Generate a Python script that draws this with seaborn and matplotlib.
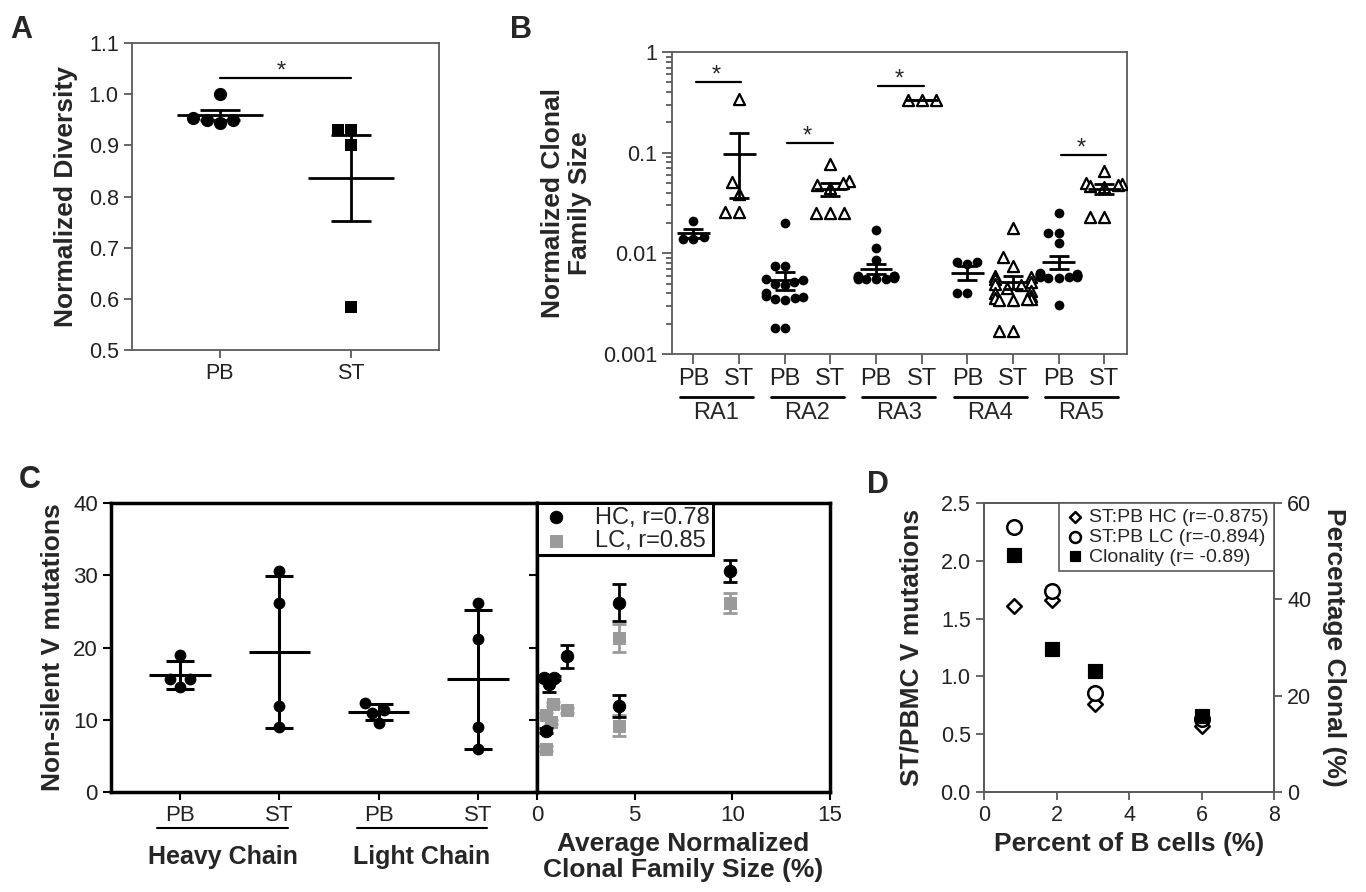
import numpy as np
import pandas as pd
import matplotlib
matplotlib.use("Agg")
from matplotlib import pyplot as plt
from matplotlib.ticker import LogLocator, NullFormatter
import seaborn as sns

# A: normalized diversity
a_groups = ['PB', 'ST']
a_pb = [1.0, 0.95, 0.943, 0.95, 0.953]
a_st = [0.93, 0.93, 0.90, 0.585]

# B: normalized clonal family size, per patient
b_patients = ['RA1', 'RA2', 'RA3', 'RA4', 'RA5']
ra1_pb = [0.021, 0.0145, 0.014, 0.014]
ra1_st = [0.34, 0.051, 0.039, 0.026, 0.026]
ra2_pb = [0.02, 0.0075, 0.0075, 0.0056, 0.0054, 0.0052, 0.005, 0.0048, 0.004,
          0.0038, 0.0037, 0.0036, 0.0035, 0.0034, 0.0018, 0.0018]
ra2_st = [0.078, 0.052, 0.05, 0.048, 0.045, 0.025, 0.025, 0.025]
ra3_pb = [0.017, 0.0112, 0.0086, 0.006, 0.006, 0.0059, 0.0058, 0.0058, 0.0058,
          0.0057, 0.0057, 0.0056, 0.0056, 0.0056, 0.0055]
ra3_st = [0.33, 0.33, 0.33]
ra4_pb = [0.0082, 0.0082, 0.0078, 0.004, 0.004]
ra4_st = [0.018, 0.0092, 0.0074, 0.006, 0.0058, 0.0055, 0.0052, 0.005, 0.0048,
          0.0045, 0.0042, 0.004, 0.0038, 0.0036, 0.0035, 0.0035, 0.0034, 0.0034,
          0.0017, 0.0017]
ra5_pb = [0.025, 0.016, 0.016, 0.0127, 0.0064, 0.0063, 0.0062, 0.0062, 0.0061,
          0.006, 0.006, 0.0059, 0.0059, 0.0058, 0.0058, 0.0058, 0.0057, 0.0057, 0.0031]
ra5_st = [0.066, 0.05, 0.049, 0.048, 0.047, 0.046, 0.023, 0.023]
b_sig = [(0, 0.5), (2, 0.124), (4, 0.46), (8, 0.095)]  # PB index, bracket height

# C: non-silent V mutations
c_groups = ['HC PB', 'HC ST', 'LC PB', 'LC ST']
c_ticklabels = ['PB', 'ST', 'PB', 'ST']
hc_pb = [19.0, 15.6, 15.6, 14.6]
hc_st = [30.6, 26.1, 11.9, 9.0]
lc_pb = [12.3, 11.3, 11.0, 9.6]
lc_st = [26.1, 21.2, 9.0, 6.0]

hc_size = [0.35, 0.6, 0.85, 0.6, 0.45, 1.55, 4.2, 4.2, 9.9]
hc_mut = [15.8, 15.5, 15.8, 14.9, 8.5, 18.8, 26.2, 11.9, 30.6]
hc_err = [0.3, 0.3, 0.3, 1.0, 0.3, 1.6, 2.6, 1.5, 1.5]
lc_size = [0.45, 0.8, 0.7, 0.45, 1.55, 4.2, 4.2, 9.9]
lc_mut = [10.7, 12.2, 9.7, 6.0, 11.3, 21.3, 9.2, 26.2]
lc_err = [0.3, 0.3, 0.3, 0.3, 0.3, 1.9, 1.4, 1.4]

# D: ST/PB ratios vs B cell percentage
d_bcells = [0.83, 1.88, 3.06, 6.0]
d_hc = [1.61, 1.66, 0.76, 0.57]
d_lc = [2.29, 1.74, 0.86, 0.63]
d_clonal = [49.3, 29.6, 25.1, 15.7]

sns.set_style('ticks')
plt.rcParams['font.family'] = ['Liberation Sans', 'DejaVu Sans']

W, H = 1366, 892
fig = plt.figure(figsize=(W / 100, H / 100), dpi=100)


def rect(x0, y0, x1, y1):
    return [x0 / W, 1 - y1 / H, (x1 - x0) / W, (y1 - y0) / H]


gray = '#5a5a5a'
lab = dict(fontsize=19, fontweight='bold')


def box(ax, color=gray, lw=1.3):
    for sp in ax.spines.values():
        sp.set_visible(True)
        sp.set_color(color)
        sp.set_linewidth(lw)


def mean_bars(ax, groups, err='sem', half=0.33, cap=0.15, lw=2.0):
    for i, vals in enumerate(groups):
        s = pd.Series(vals)
        m = s.mean()
        e = s.sem() if err == 'sem' else s.std()
        ax.hlines(m, i - half, i + half, color='k', lw=lw, zorder=4)
        ax.vlines(i, m - e, m + e, color='k', lw=lw, zorder=4)
        ax.hlines([m - e, m + e], i - cap, i + cap, color='k', lw=lw, zorder=4)


# ---------------- A
ax_a = fig.add_axes(rect(132, 43, 439, 350))
df_a = pd.DataFrame({'group': ['PB'] * len(a_pb) + ['ST'] * len(a_st),
                     'value': a_pb + a_st})
sns.swarmplot(data=df_a[df_a['group'] == 'PB'], x='group', y='value', order=a_groups,
              marker='o', color='k', size=9.5, ax=ax_a)
sns.swarmplot(data=df_a[df_a['group'] == 'ST'], x='group', y='value', order=a_groups,
              marker='s', color='k', size=9, ax=ax_a)
mean_bars(ax_a, [a_pb, a_st], 'sem', half=0.33, cap=0.15)
ax_a.set_xlim(-0.67, 1.67)
ax_a.set_ylim(0.5, 1.1)
ax_a.set_yticks(np.arange(0.5, 1.11, 0.1))
ax_a.yaxis.set_major_formatter('{x:.1f}')
ax_a.plot([0, 1], [1.032, 1.032], color='k', lw=1.6)
ax_a.text(0.47, 1.033, '*', ha='center', va='baseline', fontsize=17)
ax_a.set_xlabel('')
ax_a.set_ylabel('Normalized Diversity', labelpad=8, **lab)
box(ax_a)
ax_a.tick_params(direction='out', length=6, width=1.3, colors=gray, labelcolor='#222', labelsize=15.5)

# ---------------- B
ax_b = fig.add_axes(rect(672, 52, 1127, 354))
b_order = [f'{p} {t}' for p in b_patients for t in ('PB', 'ST')]
b_lists = [ra1_pb, ra1_st, ra2_pb, ra2_st, ra3_pb, ra3_st, ra4_pb, ra4_st, ra5_pb, ra5_st]
df_b = pd.DataFrame({'group': np.repeat(b_order, [len(v) for v in b_lists]),
                     'size': np.concatenate(b_lists)})
df_b['tissue'] = df_b['group'].str.split().str[1]
sns.swarmplot(data=df_b[df_b['tissue'] == 'PB'], x='group', y='size', order=b_order,
              marker='o', color='k', size=7, log_scale=True, ax=ax_b)
sns.swarmplot(data=df_b[df_b['tissue'] == 'ST'], x='group', y='size', order=b_order,
              marker='^', color='white', edgecolor='k', linewidth=1.6, size=8,
              log_scale=True, ax=ax_b)
mean_bars(ax_b, b_lists, 'sem', half=0.36, cap=0.22)
ax_b.set_yscale('log')
ax_b.set_ylim(1e-3, 1)
ax_b.set_yticks([1e-3, 1e-2, 1e-1, 1])
ax_b.set_yticklabels(['0.001', '0.01', '0.1', '1'])
ax_b.yaxis.set_minor_locator(LogLocator(base=10, subs=np.arange(2, 10)))
ax_b.yaxis.set_minor_formatter(NullFormatter())
ax_b.set_xlim(-0.47, 9.5)
ax_b.set_xticks(range(10))
ax_b.set_xticklabels(['PB', 'ST'] * 5)
for i, y in b_sig:
    ax_b.plot([i + 0.05, i + 1.05], [y, y], color='k', lw=1.6)
    ax_b.text(i + 0.5, y * 1.02, '*', ha='center', va='baseline', fontsize=17)
tr = ax_b.get_xaxis_transform()
for k, p in enumerate(b_patients):
    ax_b.plot([2 * k - 0.3, 2 * k + 1.3], [-0.142, -0.142], transform=tr,
              color='k', lw=2, clip_on=False)
    ax_b.text(2 * k + 0.5, -0.16, p, transform=tr, ha='center', va='top', fontsize=17)
ax_b.set_xlabel('')
ax_b.set_ylabel('Normalized Clonal\nFamily Size', labelpad=8, linespacing=1.15, **lab)
box(ax_b)
ax_b.tick_params(which='both', direction='out', colors=gray, labelcolor='#222', width=1.3)
ax_b.tick_params(axis='y', which='major', length=7, labelsize=15.5)
ax_b.tick_params(axis='y', which='minor', length=4)
ax_b.tick_params(axis='x', length=7, labelsize=17, pad=3)

# ---------------- C (left, categorical)
ax_cl = fig.add_axes(rect(111, 503, 537, 792))
c_lists = [hc_pb, hc_st, lc_pb, lc_st]
df_c = pd.DataFrame({'group': np.repeat(c_groups, [len(v) for v in c_lists]),
                     'mut': np.concatenate(c_lists)})
sns.swarmplot(data=df_c, x='group', y='mut', order=c_groups, marker='o', color='k',
              size=8.5, ax=ax_cl)
mean_bars(ax_cl, c_lists, 'sd', half=0.31, cap=0.14, lw=2.2)
ax_cl.set_xlim(-0.695, 3.595)
ax_cl.set_ylim(0, 40)
ax_cl.set_yticks(range(0, 41, 10))
ax_cl.set_xticks(range(4))
ax_cl.set_xticklabels(c_ticklabels)
trc = ax_cl.get_xaxis_transform()
for x0, x1, name in [(-0.23, 1.09, 'Heavy Chain'), (1.78, 3.09, 'Light Chain')]:
    ax_cl.plot([x0, x1], [-0.125, -0.125], transform=trc, color='k', lw=1.5, clip_on=False)
    ax_cl.text((x0 + x1) / 2, -0.225, name, transform=trc, ha='center', va='center',
               fontsize=18, fontweight='bold')
ax_cl.set_xlabel('')
ax_cl.set_ylabel('Non-silent V mutations', labelpad=6, **lab)
box(ax_cl, 'k', 2.5)
ax_cl.tick_params(direction='out', length=6, width=1.5, colors='k', labelcolor='#222', labelsize=16)

# ---------------- C (right, scatter)
ax_cr = fig.add_axes(rect(537, 503, 830, 792))
ax_cr.errorbar(lc_size, lc_mut, yerr=lc_err, fmt='none', ecolor='#9a9a9a',
               elinewidth=2, capsize=5, capthick=2, zorder=2)
sns.scatterplot(x=lc_size, y=lc_mut, marker='s', color='#9a9a9a', edgecolor='#9a9a9a',
                s=75, ax=ax_cr, label='LC, r=0.85', zorder=3)
ax_cr.errorbar(hc_size, hc_mut, yerr=hc_err, fmt='none', ecolor='k',
               elinewidth=2, capsize=5, capthick=2, zorder=4)
sns.scatterplot(x=hc_size, y=hc_mut, marker='o', color='k', edgecolor='k',
                s=80, ax=ax_cr, label='HC, r=0.78', zorder=5)
ax_cr.set_xlim(0, 15)
ax_cr.set_ylim(0, 40)
ax_cr.set_xticks([0, 5, 10, 15])
ax_cr.set_yticks(range(0, 41, 10))
ax_cr.tick_params(axis='y', labelleft=False)
ax_cr.tick_params(direction='out', length=6, width=1.5, colors='k', labelcolor='#222', labelsize=16)
ax_cr.set_xlabel('Average Normalized\nClonal Family Size (%)', linespacing=1.1, labelpad=4, **lab)
ax_cr.set_ylabel('')
box(ax_cr, 'k', 2.5)
h, l = ax_cr.get_legend_handles_labels()
leg = ax_cr.legend(h[::-1], l[::-1], loc='upper left', bbox_to_anchor=(0, 1), borderaxespad=0,
                   fancybox=False, edgecolor='k', framealpha=1, fontsize=17,
                   handletextpad=1.0, borderpad=0.15, labelspacing=0.05, handlelength=1.3)
leg.get_frame().set_linewidth(2.2)

# ---------------- D
ax_d = fig.add_axes(rect(984, 503, 1274, 792))
ax_d2 = ax_d.twinx()
sns.scatterplot(x=d_bcells, y=d_hc, marker='D', color='white', edgecolor='k', linewidth=1.8,
                s=55, ax=ax_d, label='ST:PB HC (r=-0.875)', zorder=3)
sns.scatterplot(x=d_bcells, y=d_lc, marker='o', color='white', edgecolor='k', linewidth=1.8,
                s=110, ax=ax_d, label='ST:PB LC (r=-0.894)', zorder=3)
sns.scatterplot(x=d_bcells, y=d_clonal, marker='s', color='k', edgecolor='k', s=110,
                ax=ax_d2, label='Clonality (r= -0.89)')
for ax in (ax_d, ax_d2):
    if ax.get_legend() is not None:
        ax.get_legend().remove()
ax_d.set_xlim(0, 8)
ax_d.set_ylim(0, 2.5)
ax_d.set_xticks(range(0, 9, 2))
ax_d.set_yticks(np.arange(0, 2.51, 0.5))
ax_d.yaxis.set_major_formatter('{x:.1f}')
ax_d2.set_ylim(0, 60)
ax_d2.set_yticks([0, 20, 40, 60])
ax_d.set_xlabel('Percent of B cells (%)', labelpad=4, **lab)
ax_d.set_ylabel('ST/PBMC V mutations', labelpad=12, **lab)
ax_d2.set_ylabel('Percentage Clonal (%)', rotation=270, va='bottom', labelpad=8, **lab)
box(ax_d)
box(ax_d2)
for ax in (ax_d, ax_d2):
    ax.tick_params(direction='out', length=6, width=1.3, colors=gray, labelcolor='#222', labelsize=15.5)
h1, l1 = ax_d.get_legend_handles_labels()
h2, l2 = ax_d2.get_legend_handles_labels()
leg_d = ax_d2.legend(h1 + h2, l1 + l2, loc='upper right', borderaxespad=0, fancybox=False,
                     edgecolor=gray, framealpha=1, fontsize=14, handletextpad=0.2,
                     borderpad=0.3, labelspacing=0.1, handlelength=1.0, markerscale=0.75)
leg_d.get_frame().set_linewidth(1.2)

# panel letters
for letter, x, y in [('A', 21, 30), ('B', 521, 30), ('C', 30, 480), ('D', 878, 485)]:
    fig.text(x / W, 1 - y / H, letter, fontsize=22, fontweight='bold', ha='center', va='center')

fig.savefig('out.png', dpi=100)
